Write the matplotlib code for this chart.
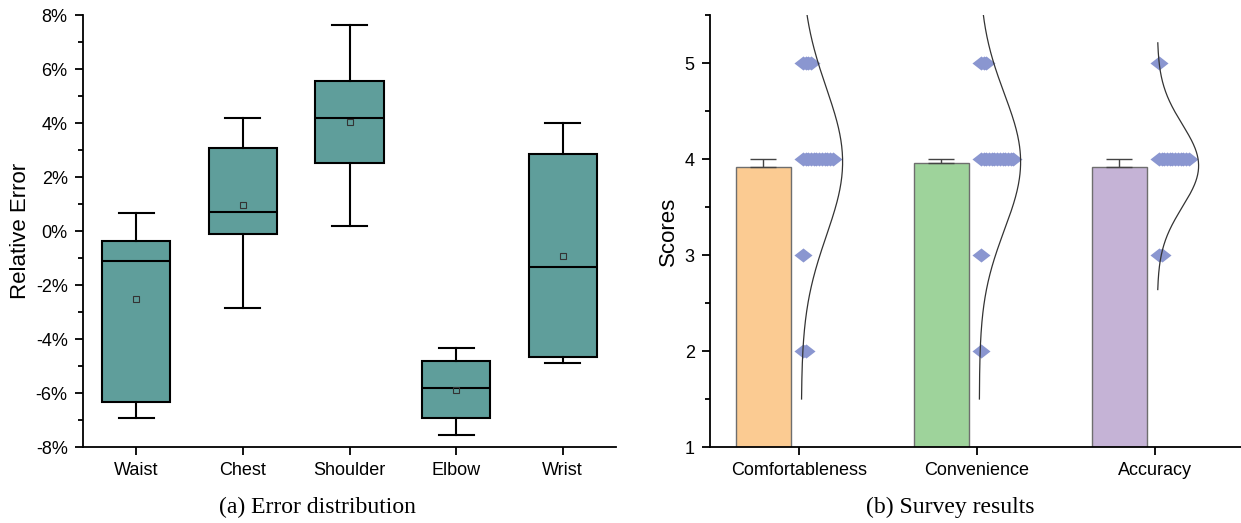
import numpy as np
import matplotlib
matplotlib.use("Agg")
from matplotlib import pyplot as plt
from matplotlib.ticker import MultipleLocator, FuncFormatter

plt.rcParams['font.family'] = ['Liberation Sans', 'DejaVu Sans']

# (a) relative error per joint, in percent
joints = ['Waist', 'Chest', 'Shoulder', 'Elbow', 'Wrist']
whis_lo = [-6.91, -2.87, 0.19, -7.56, -4.90]
q1 = [-6.34, -0.11, 2.52, -6.91, -4.65]
medians = [-1.12, 0.72, 4.18, -5.80, -1.34]
q3 = [-0.38, 3.07, 5.55, -4.83, 2.84]
whis_hi = [0.66, 4.18, 7.64, -4.34, 3.99]
means = [-2.52, 0.96, 4.04, -5.89, -0.91]

# (b) survey scores
criteria = ['Comfortableness', 'Convenience', 'Accuracy']
score_mean = [3.92, 3.96, 3.92]
score_err = [0.08, 0.04, 0.08]
score_levels = [2, 3, 4, 5]
score_counts = [[2, 1, 12, 4],
                [1, 1, 13, 3],
                [0, 2, 12, 1]]
# normal curves fitted to the scores
fit_mean = [3.97, 3.97, 3.93]
fit_sd = [0.77, 0.71, 0.43]
fit_lo = [1.5, 1.5, 2.64]
fit_hi = [6.3, 6.3, 5.21]

bar_colors = ['#FBCB92', '#9ED39B', '#C5B3D6']

W, H = 1241, 523
fig = plt.figure(figsize=(W / 100, H / 100), dpi=100)

def style_axis(ax):
    for s in ['top', 'right']:
        ax.spines[s].set_visible(False)
    for s in ['left', 'bottom']:
        ax.spines[s].set_linewidth(1.3)
    ax.tick_params(which='major', length=6, width=1.3, labelsize=13, pad=5)
    ax.tick_params(which='minor', length=3.5, width=1.3)
    ax.tick_params(axis='x', which='minor', bottom=False)

# ---- left: box plot ----
ax1 = fig.add_axes([83 / W, 76 / H, 533 / W, 432 / H])
stats = []
for i in range(len(joints)):
    stats.append(dict(label=joints[i], whislo=whis_lo[i], q1=q1[i], med=medians[i],
                      q3=q3[i], whishi=whis_hi[i], mean=means[i], fliers=[]))
ax1.bxp(stats, positions=np.arange(1, 6), widths=0.64, capwidths=0.33,
        patch_artist=True, showmeans=True, showfliers=False,
        boxprops=dict(facecolor='#5F9E9B', edgecolor='black', linewidth=1.5),
        medianprops=dict(color='black', linewidth=1.5),
        whiskerprops=dict(color='black', linewidth=1.5),
        capprops=dict(color='black', linewidth=1.5),
        meanprops=dict(marker='s', markerfacecolor='none', markeredgecolor='#333333',
                       markersize=4.2, markeredgewidth=0.8))
ax1.set_xlim(0.5, 5.5)
ax1.set_ylim(-8, 8)
ax1.yaxis.set_major_locator(MultipleLocator(2))
ax1.yaxis.set_minor_locator(MultipleLocator(1))
ax1.yaxis.set_major_formatter(FuncFormatter(lambda v, p: '%d%%' % round(v)))
style_axis(ax1)
ax1.set_ylabel('Relative Error', fontsize=16)
ax1.yaxis.set_label_coords(-0.097, 0.5)

# ---- right: bars with score points and fitted curves ----
ax2 = fig.add_axes([710 / W, 76 / H, 531 / W, 432 / H])
x = np.arange(1, 4)
ax2.bar(x - 0.2, score_mean, width=0.306, bottom=0, color=bar_colors,
        edgecolor='#6E6E6E', linewidth=1.0, zorder=2)
ax2.errorbar(x - 0.2, score_mean, yerr=[np.zeros(3), score_err], fmt='none',
             ecolor='#444444', elinewidth=1.0, capsize=9.4, capthick=1.0, zorder=3)

diamond = [(-1, 0), (0, 0.78), (1, 0), (0, -0.78), (-1, 0)]
step = 0.0152
for i in range(3):
    for lvl, n in zip(score_levels, score_counts[i]):
        if n == 0:
            continue
        xs = x[i] + 0.022 + step * np.arange(n)
        ax2.plot(xs, [lvl] * n, linestyle='none', marker=diamond, markersize=13,
                 color='#8A96D0', markeredgewidth=0, zorder=4)
    yy = np.linspace(fit_lo[i], fit_hi[i], 300)
    xx = x[i] + 0.013 + 0.232 * np.exp(-0.5 * ((yy - fit_mean[i]) / fit_sd[i]) ** 2)
    ax2.plot(xx, yy, color='#333333', linewidth=0.9, zorder=5)

ax2.set_xlim(0.5, 0.5 + 531 / 178)
ax2.set_ylim(1, 5.5)
ax2.set_xticks(x)
ax2.set_xticklabels(criteria)
ax2.yaxis.set_major_locator(MultipleLocator(1))
ax2.yaxis.set_minor_locator(MultipleLocator(0.5))
style_axis(ax2)
ax2.set_ylabel('Scores', fontsize=16)
ax2.yaxis.set_label_coords(-0.058, 0.5)

# captions under each panel
fig.text(317 / W, 1 - 507 / H, '(a) Error distribution', ha='center', va='center',
         family='Liberation Serif', fontsize=17)
fig.text(950 / W, 1 - 507 / H, '(b) Survey results', ha='center', va='center',
         family='Liberation Serif', fontsize=17)

fig.savefig('out.png', dpi=100)
